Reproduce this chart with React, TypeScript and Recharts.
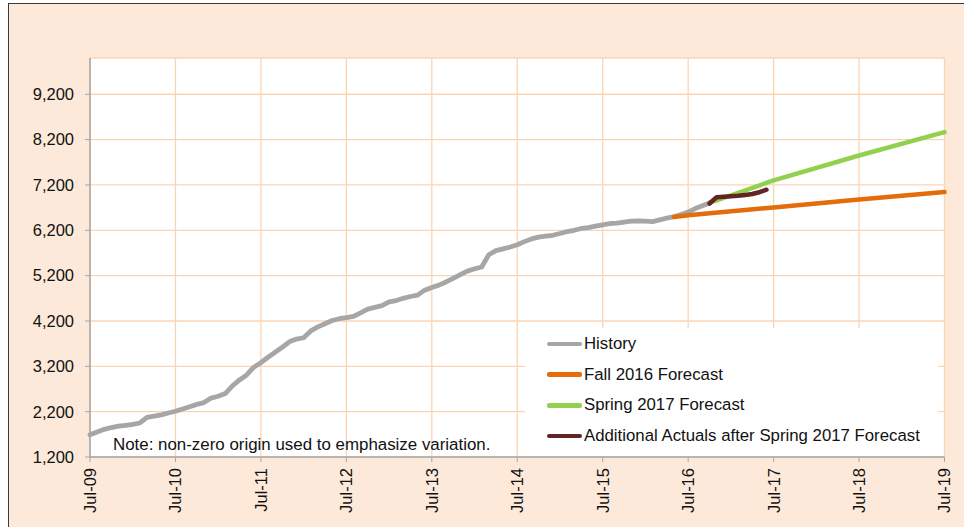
import { LineChart, Line, XAxis, YAxis, CartesianGrid } from 'recharts';

// months counted from Jul-09 (0) to Jul-19 (120)
const historyStart = 0;
const historyValues = [
  1690, 1750, 1810, 1850, 1880, 1900, 1920, 1950, 2075, 2100, 2130, 2170,
  2210, 2260, 2310, 2360, 2400, 2500, 2540, 2600, 2770, 2900, 3010, 3180,
  3280, 3400, 3510, 3620, 3740, 3800, 3830, 3980, 4070, 4140, 4210, 4250,
  4275, 4300, 4380, 4460, 4500, 4540, 4620, 4650, 4700, 4740, 4770, 4880,
  4940, 4990, 5060, 5140, 5220, 5300, 5350, 5390, 5660, 5750, 5790, 5830,
  5880, 5950, 6010, 6050, 6070, 6090, 6130, 6170, 6200, 6240, 6260, 6290,
  6320, 6350, 6360, 6380, 6400, 6410, 6400, 6390, 6430, 6470, 6500, 6550,
  6600, 6680, 6740, 6800,
];

const fallMonths = [82, 84, 96, 108, 120];
const fallValues = [6495, 6530, 6705, 6880, 7045];

const springMonths = [87, 88, 96, 108, 120];
const springValues = [6810, 6860, 7300, 7850, 8365];

const actualsStart = 87;
const actualsValues = [6790, 6930, 6940, 6950, 6960, 6980, 7000, 7040, 7095];

const xTicks = [0, 12, 24, 36, 48, 60, 72, 84, 96, 108, 120];
const yTicks = [1200, 2200, 3200, 4200, 5200, 6200, 7200, 8200, 9200];

const legendItems = [
  { label: 'History', color: '#A6A6A6' },
  { label: 'Fall 2016 Forecast', color: '#E46C0A' },
  { label: 'Spring 2017 Forecast', color: '#92D050' },
  { label: 'Additional Actuals after Spring 2017 Forecast', color: '#632523' },
];

type Row = { m: number; history?: number; fall?: number; spring?: number; actual?: number };

function buildRows(): Row[] {
  const map = new Map<number, Row>();
  const get = (m: number) => {
    if (!map.has(m)) map.set(m, { m });
    return map.get(m)!;
  };
  historyValues.forEach((v, i) => { get(historyStart + i).history = v; });
  fallMonths.forEach((m, i) => { get(m).fall = fallValues[i]; });
  springMonths.forEach((m, i) => { get(m).spring = springValues[i]; });
  actualsValues.forEach((v, i) => { get(actualsStart + i).actual = v; });
  return Array.from(map.values()).sort((a, b) => a.m - b.m);
}

const FONT = '"Liberation Sans", Arial, sans-serif';
const GREY = '#A6A6A6';

function monthLabel(m: number) {
  const yr = 9 + m / 12;
  return `Jul-${String(yr).padStart(2, '0')}`;
}

function XTick(props: any) {
  const { x, y, payload } = props;
  return (
    <text
      x={x}
      y={y}
      transform={`rotate(-90, ${x}, ${y})`}
      textAnchor="end"
      dy="0.36em"
      fontSize={16.5}
      fontFamily={FONT}
      fill="#111"
    >
      {monthLabel(payload.value)}
    </text>
  );
}

export default function App() {
  const rows = buildRows();

  return (
    <div
      style={{
        position: 'absolute', left: 8, top: 3, width: 975, height: 540,
        border: '1px solid #3a3a3a', background: '#FDE9D9', fontFamily: FONT,
      }}
    >
      <LineChart
        width={955}
        height={523}
        data={rows}
        margin={{ top: 54, right: 19.5, bottom: 0, left: 0 }}
      >
        <CartesianGrid stroke="#FBD5B3" strokeWidth={1.3} fill="#fff" />
        <XAxis
          dataKey="m"
          type="number"
          domain={[0, 120]}
          ticks={xTicks}
          height={70}
          interval={0}
          tickSize={5}
          tickMargin={6}
          stroke={GREY}
          axisLine={{ stroke: GREY, strokeWidth: 1.5 }}
          tickLine={{ stroke: GREY }}
          tick={<XTick />}
        />
        <YAxis
          type="number"
          domain={[1200, 10000]}
          ticks={yTicks}
          width={81}
          interval={0}
          tickSize={5}
          tickMargin={11}
          axisLine={{ stroke: GREY, strokeWidth: 1.5 }}
          tickLine={{ stroke: GREY }}
          tickFormatter={(v: number) => v.toLocaleString('en-US')}
          tick={{ fontSize: 16.5, fontFamily: FONT, fill: '#111' }}
        />
        <Line type="linear" dataKey="history" stroke="#A6A6A6" strokeWidth={4.8} dot={false}
          connectNulls strokeLinecap="round" strokeLinejoin="round" isAnimationActive={false} />
        <Line type="linear" dataKey="fall" stroke="#E46C0A" strokeWidth={4.5} dot={false}
          connectNulls strokeLinecap="round" strokeLinejoin="round" isAnimationActive={false} />
        <Line type="linear" dataKey="spring" stroke="#92D050" strokeWidth={4.5} dot={false}
          connectNulls strokeLinecap="round" strokeLinejoin="round" isAnimationActive={false} />
        <Line type="linear" dataKey="actual" stroke="#632523" strokeWidth={4.5} dot={false}
          connectNulls strokeLinecap="round" strokeLinejoin="round" isAnimationActive={false} />
      </LineChart>

      <div
        style={{
          position: 'absolute', left: 104, top: 431, fontSize: 16.9,
          lineHeight: 'normal', color: '#111', whiteSpace: 'nowrap',
        }}
      >
        Note: non-zero origin used to emphasize variation.
      </div>

      <div
        style={{
          position: 'absolute', left: 516, top: 324, width: 413, height: 128,
          background: '#fff',
        }}
      >
        {legendItems.map((it, i) => (
          <div
            key={it.label}
            style={{
              position: 'absolute', left: 22, top: 16 + i * 30.7 - 10, height: 20,
              display: 'flex', alignItems: 'center', whiteSpace: 'nowrap',
            }}
          >
            <span style={{ width: 35, height: 4.5, background: it.color, borderRadius: 2, marginRight: 2 }} />
            <span style={{ fontSize: 16.8, color: '#111' }}>{it.label}</span>
          </div>
        ))}
      </div>
    </div>
  );
}
